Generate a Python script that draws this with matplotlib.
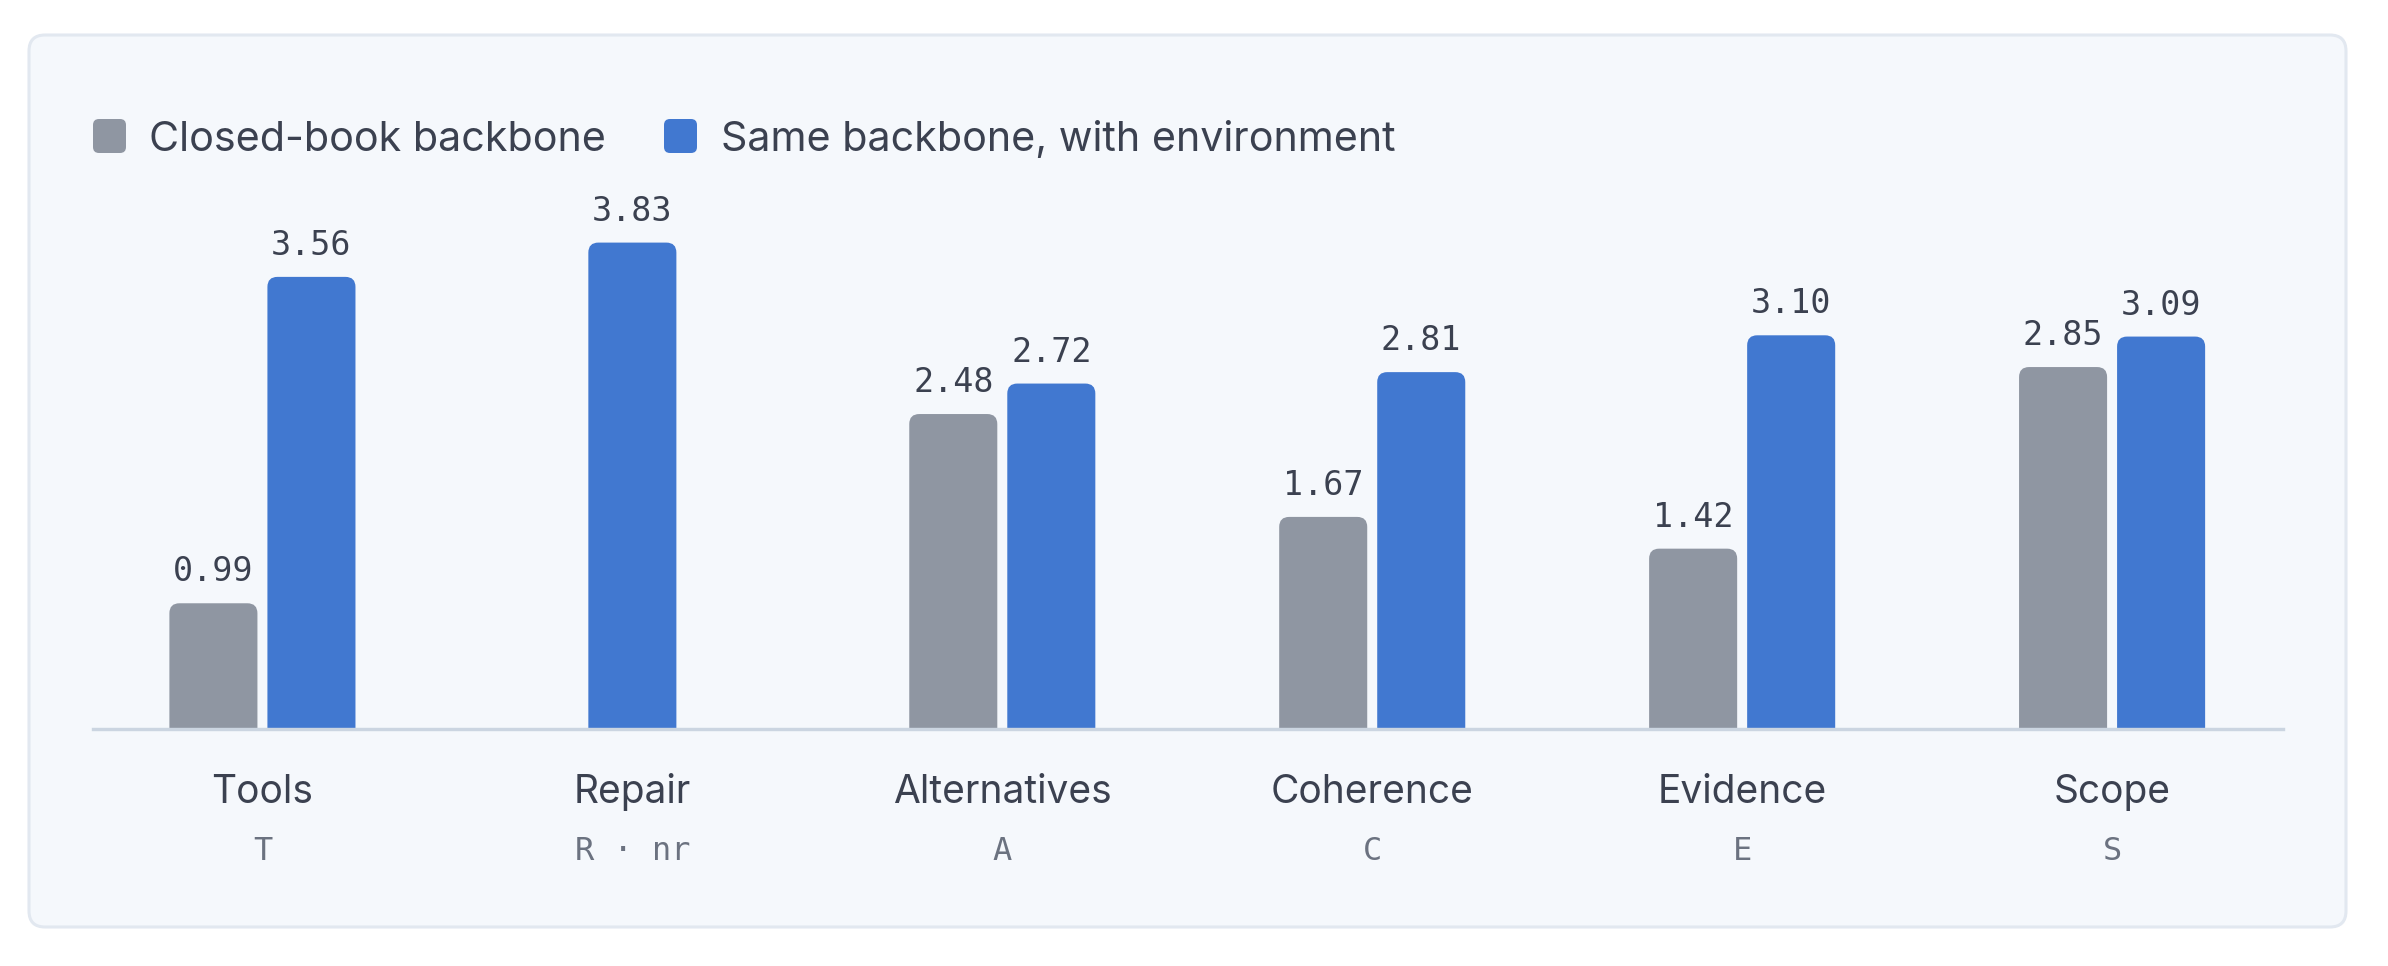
import numpy as np
import matplotlib
matplotlib.use("Agg")
import matplotlib.pyplot as plt
from matplotlib.patches import FancyBboxPatch
import matplotlib.transforms as mtransforms

# ---- data ----
categories = ["Tools", "Repair", "Alternatives", "Coherence", "Evidence", "Scope"]
codes = ["T", "R · nr", "A", "C", "E", "S"]
closed_book = [0.99, None, 2.48, 1.67, 1.42, 2.85]
with_env = [3.56, 3.83, 2.72, 2.81, 3.10, 3.09]
series_names = ["Closed-book backbone", "Same backbone, with environment"]

# ---- style ----
W, H, DPI = 2388, 966, 200
GRAY = "#8f96a2"
BLUE = "#4178d0"
CARD_BG = "#f5f8fc"
CARD_EDGE = "#e2e8f0"
BASE = "#cbd5e1"
TXT = "#3b4150"
SUB = "#6b7280"
SANS = ["Inter", "DejaVu Sans"]
MONO = ["DejaVu Sans Mono"]

fig = plt.figure(figsize=(W / DPI, H / DPI), dpi=DPI)
fig.patch.set_facecolor("white")


def px(x, y):
    """image pixels (top-left origin) -> inches for dpi_scale_trans"""
    return x / DPI, (H - y) / DPI


# card
cx0, cy0 = px(29, 927)
cx1, cy1 = px(2346, 35)
card = FancyBboxPatch((cx0, cy0), cx1 - cx0, cy1 - cy0,
                      boxstyle="round,pad=0,rounding_size=0.08",
                      transform=fig.dpi_scale_trans, facecolor=CARD_BG,
                      edgecolor=CARD_EDGE, linewidth=1.1, zorder=-5)
fig.patches.append(card)

# axes
ax_left, ax_right = 93, 2283
base_y = 729
ymax = 4.5
px_per_unit_y = 127.0
ax_top = base_y - ymax * px_per_unit_y
ax = fig.add_axes([ax_left / W, (H - base_y) / H, (ax_right - ax_left) / W,
                   (base_y - ax_top) / H])
ax.set_zorder(1)
ax.set_facecolor("none")
for s in ax.spines.values():
    s.set_visible(False)
ax.set_xticks([])
ax.set_yticks([])
ax.set_xlim(-0.458, 5.462)
ax.set_ylim(0, ymax)

n = len(categories)
x = np.arange(n)
bw = 0.238
gap = 0.027
off = (bw + gap) / 2

xu_px = (ax_right - ax_left) / (5.462 + 0.458)
aspect = (1 / px_per_unit_y) / (1 / xu_px)
r = 10 / xu_px

gx, gv, bx, bv = [], [], [], []
for i in range(n):
    if closed_book[i] is None:
        bx.append(x[i]); bv.append(with_env[i])
    else:
        gx.append(x[i] - off); gv.append(closed_book[i])
        bx.append(x[i] + off); bv.append(with_env[i])

for xs, vs, col in [(gx, gv, GRAY), (bx, bv, BLUE)]:
    bars = ax.bar(xs, vs, width=bw, color=col)
    for rect, v in zip(bars, vs):
        rect.set_visible(False)
        ext = 0.2
        p = FancyBboxPatch((rect.get_x(), -ext), rect.get_width(), rect.get_height() + ext,
                           boxstyle=f"round,pad=0,rounding_size={r}",
                           mutation_aspect=aspect, facecolor=col, edgecolor="none",
                           zorder=2)
        ax.add_patch(p)
        ax.annotate(f"{v:.2f}", (rect.get_x() + rect.get_width() / 2, v),
                    xytext=(0, 22 * 72 / DPI), textcoords="offset points",
                    ha="center", va="baseline", fontsize=12, family=MONO,
                    color=TXT)

ax.axhline(0, color=BASE, linewidth=3.4 * 72 / DPI, zorder=3, clip_on=False)

# category labels
tr = mtransforms.blended_transform_factory(ax.transData, fig.transFigure)
for i in range(n):
    ax.text(x[i], (H - 803) / H, categories[i], transform=tr, ha="center",
            va="baseline", fontsize=14, family=SANS, color=TXT)
    ax.text(x[i], (H - 860) / H, codes[i], transform=tr, ha="center",
            va="baseline", fontsize=11.5, family=MONO, color=SUB)

# legend
leg = [(93, 149, GRAY, series_names[0]), (664, 721, BLUE, series_names[1])]
for sx, tx, col, name in leg:
    lx, ly = px(sx, 153)
    sq = FancyBboxPatch((lx, ly), 33 / DPI, 34 / DPI,
                        boxstyle="round,pad=0,rounding_size=0.03",
                        transform=fig.dpi_scale_trans, facecolor=col,
                        edgecolor="none", zorder=2)
    fig.patches.append(sq)
    fig.text(tx / W, (H - 151) / H, name, ha="left", va="baseline",
             fontsize=14.85, family=SANS, color=TXT)

fig.savefig("out.png", dpi=DPI, facecolor="white")
